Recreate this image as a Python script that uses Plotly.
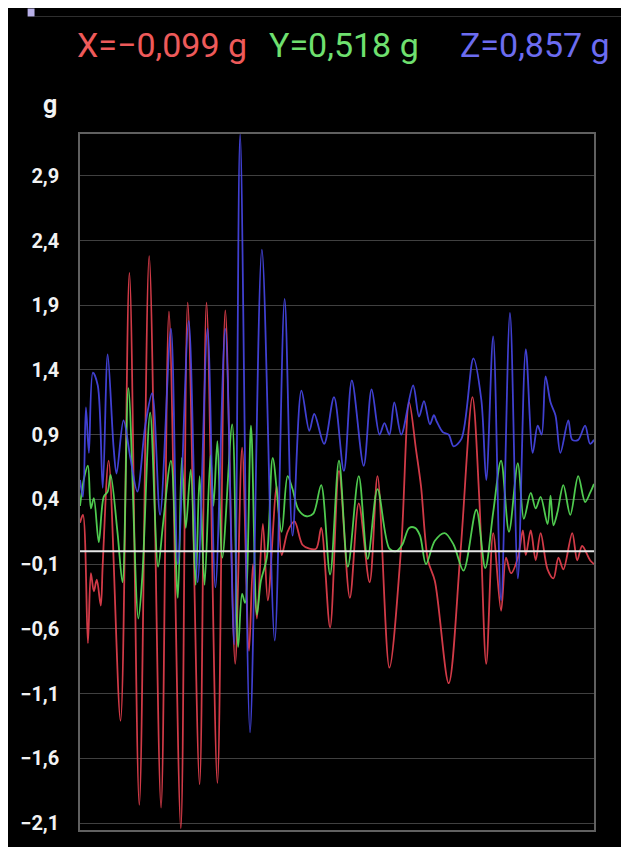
import plotly.graph_objects as go

# Sample index (time) and acceleration values (g) for each axis
t_x = [74, 77, 82, 85, 88, 91, 95, 97, 103, 115, 124, 134, 144, 156, 164, 176, 183, 195, 202, 213,
       221, 231, 238, 245, 249, 253, 259, 264, 273, 278, 284, 291, 299, 306, 313, 318, 327, 336, 347, 356,
       367, 375, 387, 399, 407, 414, 419, 426, 433, 447, 459, 471, 478, 485, 492, 500, 505, 510, 517, 522,
       525, 530, 535, 540, 547, 553, 558, 563, 572, 577, 582, 590, 594]
x_vals = [0.22, 0.28, -0.71, -0.17, -0.31, -0.22, -0.42, -0.10, 0.70, -1.31, 2.15, -1.96, 2.28, -1.98, 1.85, -2.14, 1.92, -1.80, 1.92, -1.79,
          1.86, -0.87, 0.80, -0.77, -0.10, -0.52, 0.21, -0.38, 0.50, -0.03, 0.15, 0.23, 0.05, 0.02, 0.02, 0.18, -0.59, 0.62, -0.36, 0.37,
          -0.24, 0.58, -0.90, 0.04, 1.15, 0.78, 0.50, -0.07, -0.23, -1.02, 0.00, 1.19, 0.40, -0.87, 0.14, -0.46, -0.05, -0.17, -0.05, 0.16,
          -0.03, 0.16, -0.07, 0.14, -0.14, -0.21, -0.05, -0.14, 0.14, -0.07, 0.04, -0.07, -0.10]

t_y = [74, 78, 82, 85, 88, 93, 98, 102, 105, 112, 117, 123, 133, 137, 145, 153, 158, 166, 173, 177,
       181, 186, 191, 195, 200, 206, 209, 213, 218, 228, 234, 238, 241, 247, 253, 257, 263, 269, 278, 284,
       289, 295, 303, 310, 318, 327, 336, 345, 356, 365, 375, 387, 394, 400, 407, 413, 418, 424, 433, 443,
       452, 462, 475, 484, 492, 500, 508, 517, 523, 530, 535, 540, 547, 550, 553, 557, 563, 570, 578, 585,
       590, 594]
y_vals = [0.35, 0.56, 0.66, 0.33, 0.41, 0.07, 0.42, 0.46, 0.59, 0.14, -0.24, 1.26, -0.52, -0.20, 1.07, -0.12, 0.21, 0.70, -0.36, 0.72,
          0.18, 0.63, -0.26, 0.58, -0.26, 0.74, 0.35, 0.85, -0.05, 0.98, -0.74, -0.33, -0.40, 0.97, -0.49, -0.23, -0.05, 0.72, 0.15, 0.58,
          0.48, 0.32, 0.27, 0.29, 0.51, -0.18, 0.70, -0.12, 0.58, -0.06, 0.48, 0.02, 0.00, 0.05, 0.18, 0.18, 0.12, -0.10, 0.08, 0.14,
          0.05, -0.15, 0.32, -0.13, 0.30, 0.70, 0.15, 0.68, 0.25, 0.45, 0.33, 0.42, 0.21, 0.43, 0.20, 0.30, 0.51, 0.28, 0.58, 0.38,
          0.45, 0.52]

t_z = [74, 77, 80, 83, 87, 92, 97, 102, 108, 111, 118, 125, 132, 140, 147, 155, 166, 173, 184, 193,
       203, 211, 221, 230, 236, 246, 258, 271, 281, 289, 298, 306, 311, 321, 331, 341, 349, 361, 369, 377,
       382, 387, 392, 399, 411, 417, 422, 428, 432, 435, 441, 447, 452, 460, 472, 480, 485, 492, 500, 509,
       517, 525, 532, 537, 541, 545, 550, 555, 560, 568, 572, 578, 585, 590, 594]
z_vals = [0.55, 0.42, 1.11, 0.76, 1.38, 1.28, 0.49, 1.52, 0.80, 0.60, 1.01, 0.72, 0.46, 0.97, 1.22, 0.28, 1.72, -0.10, 1.78, -0.24,
          1.72, -0.28, 1.72, -0.72, 3.22, -1.40, 2.33, -0.69, 1.95, 0.12, 1.24, 0.93, 1.06, 0.83, 1.19, 0.62, 1.32, 0.66, 1.25, 0.90,
          0.99, 0.90, 1.15, 0.90, 1.28, 1.04, 1.16, 0.98, 1.05, 1.00, 0.92, 0.90, 0.81, 0.87, 1.49, 1.17, 0.55, 1.66, -0.38, 1.84,
          -0.21, 1.56, 0.76, 0.97, 0.90, 1.35, 1.15, 1.05, 0.76, 1.01, 0.86, 0.86, 0.97, 0.83, 0.86]

tick_vals = [-2.1, -1.6, -1.1, -0.6, -0.1, 0.4, 0.9, 1.4, 1.9, 2.4, 2.9]
tick_text = ["\u22122,1", "\u22121,6", "\u22121,1", "\u22120,6", "\u22120,1", "0,4", "0,9", "1,4", "1,9", "2,4", "2,9"]

header = ["X=\u22120,099 g", "Y=0,518 g", "Z=0,857 g"]
header_colors = ["#ee5a5a", "#6fe06f", "#6c6cf0"]

RED, GREEN, BLUE = "#e8414f", "#58e058", "#4848e8"

# page offset (browser body margin)
OFF = 8
W, H = 629 - OFF, 847 - OFF
ML, MR, MT, MB = 74 - OFF, 35, 134 - OFF, 14
PW, PH = W - ML - MR, H - MT - MB


def px(xp):
    return (xp - OFF - ML) / PW


def py(yp):
    return (H - MB - (yp - OFF)) / PH


fig = go.Figure()
for t, v, c in [(t_x, x_vals, RED), (t_y, y_vals, GREEN), (t_z, z_vals, BLUE)]:
    fig.add_trace(go.Scatter(x=t, y=v, mode="lines", line=dict(color=c, width=1.8, shape="spline", smoothing=0.9),
                             opacity=0.9, hoverinfo="skip", showlegend=False))

fig.update_layout(
    width=W, height=H,
    paper_bgcolor="black", plot_bgcolor="black",
    margin=dict(l=ML, r=MR, t=MT, b=MB),
    font=dict(family="Roboto", color="white"),
    xaxis=dict(range=[74, 594], showticklabels=False, showgrid=False, zeroline=False,
               showline=True, mirror=True, linecolor="#606060", linewidth=1.5, ticks=""),
    yaxis=dict(range=[-2.154, 3.223], tickvals=tick_vals, ticktext=tick_text,
               showgrid=True, gridcolor="#404040", gridwidth=1, zeroline=False,
               showline=True, mirror=True, linecolor="#606060", linewidth=1.5, ticks="",
               ticklabelstandoff=15,
               tickfont=dict(family="Roboto", size=20, color="#f2f2f2", weight="bold")),
)

# zero line on top of traces
fig.add_shape(type="line", xref="paper", yref="y", x0=0, x1=1, y0=0, y1=0,
              line=dict(color="#e6e6e6", width=2), layer="above")

# header readouts
for txt, col, xc in zip(header, header_colors, [157, 341, 534]):
    fig.add_annotation(text=txt, x=px(xc), y=py(45), xref="paper", yref="paper",
                       showarrow=False, font=dict(family="Roboto", size=34, color=col),
                       xanchor="center", yanchor="middle")

fig.add_annotation(text="g", x=px(44), y=py(104), xref="paper", yref="paper",
                   showarrow=False, font=dict(family="Roboto", size=25, color="#f2f2f2", weight="bold"),
                   xanchor="center", yanchor="middle")

# top UI strip
fig.add_shape(type="line", xref="paper", yref="paper", x0=px(28), x1=px(629),
              y0=py(16), y1=py(16), line=dict(color="#2e2e2e", width=1))
fig.add_shape(type="rect", xref="paper", yref="paper", x0=px(21), x1=px(28),
              y0=py(16), y1=py(OFF), line=dict(width=0), fillcolor="#b8b0e8")

fig.write_html("out.html")
